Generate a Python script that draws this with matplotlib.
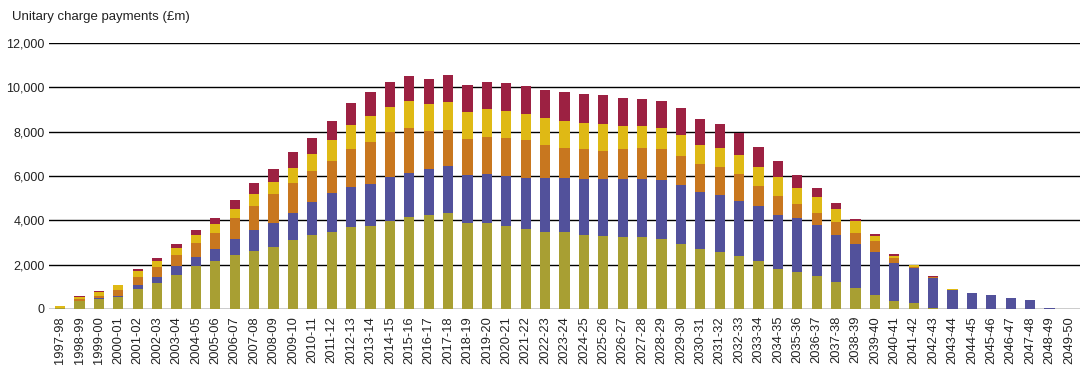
import matplotlib
matplotlib.use("Agg")
import matplotlib.pyplot as plt
import numpy as np

plt.rcParams["font.family"] = ["Liberation Sans", "DejaVu Sans"]

years = [f"{y}-{str(y + 1)[-2:]}" for y in range(1997, 2050)]

# stacked components (£m), bottom to top
olive = [40, 350, 450, 520, 917, 1188, 1519, 1925, 2180, 2421, 2632, 2812, 3098,
         3323, 3489, 3714, 3759, 3985, 4135, 4226, 4316, 3865, 3865, 3729, 3594,
         3459, 3459, 3323, 3278, 3233, 3233, 3143, 2917, 2692, 2556, 2376, 2150,
         1789, 1654, 1470, 1233, 962, 647, 376, 286, 60, 0, 0, 0, 0, 0, 0, 0]
purple = [0, 20, 50, 50, 180, 270, 405, 435, 540, 720, 917, 1083, 1218,
          1489, 1729, 1775, 1865, 1955, 2015, 2075, 2120, 2165, 2210, 2256, 2301,
          2436, 2436, 2527, 2572, 2617, 2617, 2662, 2662, 2571, 2572, 2481, 2482,
          2437, 2436, 2340, 2120, 1985, 1939, 1714, 1579, 1354, 872, 737, 647, 511, 421, 60, 0]
orange = [0, 80, 100, 270, 360, 420, 495, 630, 720, 980, 1113, 1308, 1353,
          1399, 1444, 1714, 1895, 2030, 2030, 1714, 1624, 1624, 1669, 1714, 1714,
          1488, 1353, 1353, 1263, 1353, 1398, 1398, 1308, 1263, 1263, 1218, 902,
          857, 632, 500, 587, 497, 497, 226, 40, 15, 0, 0, 0, 0, 0, 0, 0]
yellow = [110, 75, 150, 225, 270, 300, 315, 360, 405, 405, 541, 541, 707,
          767, 947, 1083, 1173, 1128, 1188, 1218, 1263, 1218, 1263, 1218, 1173,
          1219, 1218, 1173, 1218, 1038, 993, 947, 948, 857, 857, 857, 857,
          857, 722, 750, 586, 541, 225, 90, 60, 30, 45, 0, 0, 0, 0, 0, 0]
red = [0, 45, 45, 30, 60, 105, 180, 225, 270, 405, 496, 587, 722,
       752, 887, 992, 1082, 1128, 1128, 1158, 1218, 1218, 1218, 1263, 1263,
       1263, 1308, 1308, 1308, 1263, 1218, 1218, 1218, 1173, 1083, 993, 902,
       722, 586, 410, 271, 90, 90, 75, 10, 40, 0, 0, 0, 0, 0, 0, 0]

series = [olive, purple, orange, yellow, red]
colors = ["#A89F33", "#52519B", "#C8771F", "#DFB915", "#9C2142"]

fig = plt.figure(figsize=(10.9, 3.72), dpi=100)
ax = fig.add_axes([0.045, 0.1694, 0.9458, 0.715])

x = np.arange(len(years))
bottom = np.zeros(len(years))
for vals, c in zip(series, colors):
    vals = np.array(vals, dtype=float)
    ax.bar(x, vals, bottom=bottom, width=0.52, color=c, linewidth=0, zorder=3)
    bottom += vals

for v in range(0, 12001, 2000):
    ax.axhline(v, color="black", lw=1.0, zorder=2)

ax.set_xlim(-0.57, len(years) - 1 + 0.57)
ax.set_ylim(0, 12000)
ax.set_yticks(range(0, 12001, 2000))
ax.set_yticklabels([f"{v:,}" for v in range(0, 12001, 2000)], fontsize=9, color="#222222")
ax.set_xticks(x)
ax.set_xticklabels(years, rotation=90, fontsize=9.3, color="#222222")
ax.tick_params(axis="both", length=0)
ax.tick_params(axis="y", pad=3)
ax.tick_params(axis="x", pad=5)
for s in ax.spines.values():
    s.set_visible(False)

fig.text(12 / 1090, 1 - 17 / 372, "Unitary charge payments (£m)", fontsize=9.5,
         color="#222222", ha="left", va="center")

fig.savefig("out.png", dpi=100)
